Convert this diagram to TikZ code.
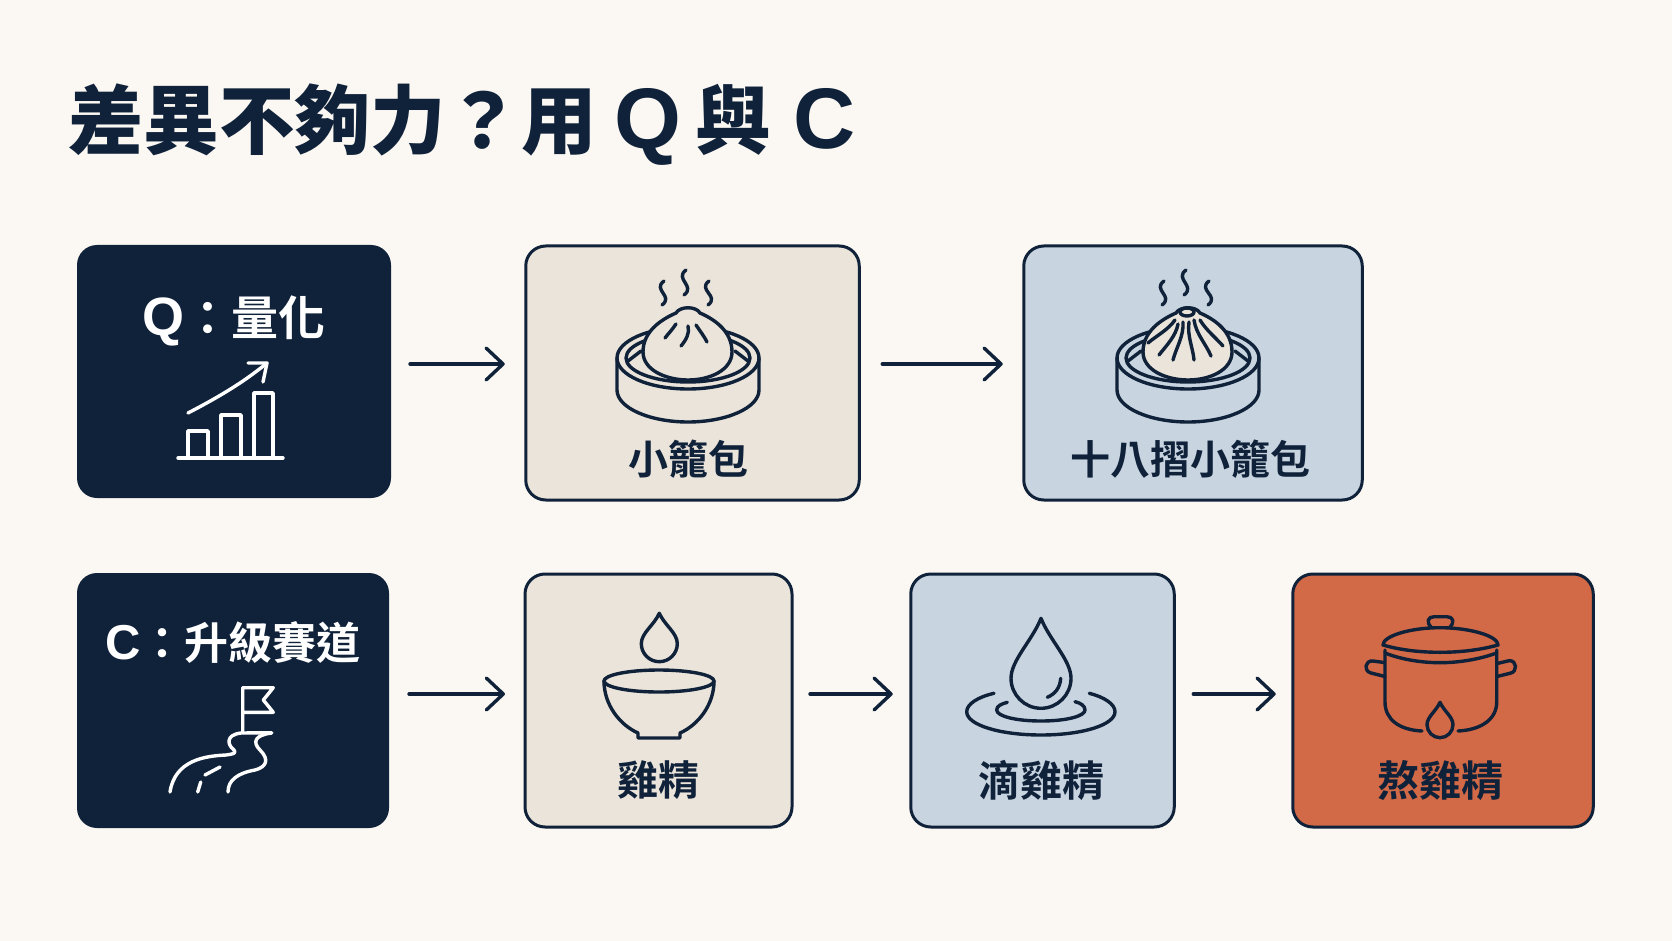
\documentclass[tikz,border=0pt]{standalone}
\usepackage{fontspec}
\usetikzlibrary{arrows.meta,calc}
\newfontfamily\cjkb{Noto Sans CJK TC Bold}
\newfontfamily\cjkk{Noto Sans CJK TC Black}
\newfontfamily\latb{Liberation Sans Bold}
\definecolor{pagebg}{HTML}{FBF8F3}
\definecolor{navy}{HTML}{10223A}
\definecolor{creamfill}{HTML}{EAE4DA}
\definecolor{bluefill}{HTML}{C8D4E0}
\definecolor{orangefill}{HTML}{D26947}
\newcommand\droppath[4]{(#1,#2) .. controls ({#1-0.3*#3},{#2+0.25*#4}) and ({#1-#3},{#2+#4-1.6*#3}) .. ({#1-#3},{#2+#4-#3}) .. controls ({#1-#3},{#2+#4-0.45*#3}) and ({#1-0.55*#3},{#2+#4}) .. (#1,{#2+#4}) .. controls ({#1+0.55*#3},{#2+#4}) and ({#1+#3},{#2+#4-0.45*#3}) .. ({#1+#3},{#2+#4-#3}) .. controls ({#1+#3},{#2+#4-1.6*#3}) and ({#1+0.3*#3},{#2+0.25*#4}) .. (#1,#2) -- cycle}
\tikzset{
  darkbox/.style={fill=navy,draw=none,rounded corners=20pt,outer sep=0pt,inner sep=0pt},
  lightbox/.style={draw=navy,line width=3pt,rounded corners=20pt,outer sep=0pt,inner sep=0pt},
  flow/.style={draw=navy,line width=3.4pt,line cap=round,-{Straight Barb[length=17pt,width=32pt,line width=3.4pt,round]}},
  icon/.style={draw=navy,line width=3.4pt,line cap=round,line join=round},
  wicon/.style={draw=white,line width=3.4pt,line cap=round,line join=round},
  labeltext/.style={text=navy,font=\cjkb\fontsize{40}{44}\selectfont,inner sep=0pt},
  headtext/.style={text=white,font=\cjkb\fontsize{47}{50}\selectfont,inner sep=0pt},
  steamer/.pic={
    \draw[icon] (-71,0) -- (-71,32) .. controls (-71,50) and (-38,64) .. (0,64) .. controls (38,64) and (71,50) .. (71,32) -- (71,0);
    \draw[icon] (0,0) ellipse [x radius=71,y radius=31];
    \draw[icon] (0,0) ellipse [x radius=62,y radius=24];
    \draw[icon] (-60,3) -- (-47,-7);
    \draw[icon] (60,3) -- (47,-7);
    \draw[icon] (-24,-77) .. controls (-36,-68) and (-14,-62) .. (-26,-53);
    \draw[icon] (-2,-88) .. controls (-14,-79) and (8,-72) .. (-4,-63);
    \draw[icon] (21,-77) .. controls (9,-68) and (32,-62) .. (20,-53);
  },
  bunshape/.pic={
    \path[icon,fill=#1] (-12,-45) .. controls (-8,-52) and (8,-52) .. (12,-45) .. controls (28,-38) and (44,-26) .. (44,-6) .. controls (44,12) and (22,22) .. (0,22) .. controls (-22,22) and (-45,12) .. (-45,-6) .. controls (-45,-26) and (-28,-38) .. (-12,-45) -- cycle;
  }
}
\begin{document}
\begin{tikzpicture}[x=1pt,y=-1pt]
\useasboundingbox (0,0) rectangle (1672,941);
\fill[pagebg] (0,0) rectangle (1672,941);

\node[anchor=base west,text=navy,inner sep=0pt] (title) at (68,149) {\cjkk\fontsize{75.5}{80}\selectfont 差異不夠力？用\hspace{18pt}{\latb\fontsize{86}{90}\selectfont Q}\hspace{14pt}與\hspace{22pt}{\latb\fontsize{86}{90}\selectfont C}};

\node[darkbox,minimum width=314pt,minimum height=253pt] (q) at (234,371.5) {};
\node[darkbox,minimum width=312pt,minimum height=255pt] (c) at (233,700.5) {};
\node[lightbox,fill=creamfill,minimum width=333.5pt,minimum height=254pt] (bun) at (692.5,373) {};
\node[lightbox,fill=bluefill,minimum width=338.5pt,minimum height=254pt] (pleat) at (1193,373) {};
\node[lightbox,fill=creamfill,minimum width=267pt,minimum height=253pt] (ess) at (658.5,700.5) {};
\node[lightbox,fill=bluefill,minimum width=263.5pt,minimum height=253pt] (dripp) at (1042.5,700.5) {};
\node[lightbox,fill=orangefill,minimum width=300.5pt,minimum height=253pt] (stew) at (1443,700.5) {};

\node[headtext] (qlabel) at (233.5,321) {{\latb\fontsize{54}{55}\selectfont Q}：量化};
\node[headtext,font=\cjkb\fontsize{44}{48}\selectfont] (clabel) at (233,643) {{\latb\fontsize{49}{55}\selectfont C}：升級賽道};
\node[labeltext] (bunlabel) at (688,459) {小籠包};
\node[labeltext] (pleatlabel) at (1190,459) {十八摺小籠包};
\node[labeltext,font=\cjkb\fontsize{41}{44}\selectfont] (esslabel) at (658,780) {雞精};
\node[labeltext,font=\cjkb\fontsize{42}{44}\selectfont] (driplabel) at (1041,780) {滴雞精};
\node[labeltext,font=\cjkb\fontsize{42}{44}\selectfont] (stewlabel) at (1440,780) {熬雞精};

% connectors
\coordinate (rowa) at (0,364);
\coordinate (rowb) at (0,694);
\draw[flow,shorten <=19pt,shorten >=21pt] (q.east |- rowa) -- (bun.west |- rowa);
\draw[flow,shorten <=23pt,shorten >=21pt] (bun.east |- rowa) -- (pleat.west |- rowa);
\draw[flow,shorten <=20pt,shorten >=20pt] (c.east |- rowb) -- (ess.west |- rowb);
\draw[flow,shorten <=18pt,shorten >=18pt] (ess.east |- rowb) -- (dripp.west |- rowb);
\draw[flow,shorten <=19pt,shorten >=17pt] (dripp.east |- rowb) -- (stew.west |- rowb);

% chart icon
\draw[wicon] (178,458) -- (283,458);
\draw[wicon] (188,458) -- (188,431) -- (208,431) -- (208,458);
\draw[wicon] (221,458) -- (221,415) -- (241,415) -- (241,458);
\draw[wicon] (254,458) -- (254,393) -- (273,393) -- (273,458);
\draw[wicon] (188,413) .. controls (215,399) and (243,383) .. (267,363);
\draw[wicon] (248,363) -- (267,363) -- (263,382);

% flag and road icon
\draw[wicon] (242.7,731.7) -- (242.7,687.7) -- (273.3,687.7) -- (263.3,700) -- (273.3,712.3) -- (242.7,712.3);
\draw[wicon] (271.7,732.7) -- (241,733) .. controls (225,735) and (228,745) .. (233,749) .. controls (238,754) and (232,754) .. (226,755) .. controls (205,756) and (175,760) .. (170,792);
\draw[wicon] (271.7,733) .. controls (255,735) and (252,742) .. (260,750) .. controls (270,760) and (266,767) .. (255,770) .. controls (238,773) and (228,780) .. (228,792);
\draw[wicon] (220,767) -- (205,775);
\draw[wicon] (200.7,782) -- (197.7,792);

% plain bun
\pic at (688,358) {steamer};
\begin{scope}[shift={(688,358)}]
\pic {bunshape=creamfill};
\draw[icon] (-12,-34) .. controls (-16,-28) and (-20,-24) .. (-23,-20);
\draw[icon] (0,-32) .. controls (2,-25) and (-2,-18) .. (-7,-12);
\draw[icon] (8,-33) .. controls (12,-27) and (16,-22) .. (19,-16);
\end{scope}

% pleated bun
\pic at (1188,358) {steamer};
\begin{scope}[shift={(1188,358)}]
\pic {bunshape=creamfill};
\draw[icon] (-1,-46) ellipse [x radius=7,y radius=4];
\draw[icon] (-13,-38) .. controls (-20,-28) and (-32,-22) .. (-40,-15);
\draw[icon] (-10,-34) .. controls (-12,-22) and (-22,-12) .. (-29,-3);
\draw[icon] (-5,-36) .. controls (-4,-22) and (-12,-10) .. (-15,2);
\draw[icon] (1,-36) .. controls (-1,-22) and (5,-10) .. (6,2);
\draw[icon] (6,-38) .. controls (8,-24) and (18,-14) .. (23,-2);
\draw[icon] (12,-38) .. controls (18,-28) and (28,-20) .. (35,-12);
\end{scope}

% bowl icon
\draw[icon] \droppath{659.3}{613.3}{18}{48.4};
\draw[icon] (604,681) .. controls (604,705) and (620,725) .. (638,733) -- (638,738) -- (680,738) -- (680,733) .. controls (698,725) and (714,705) .. (714,681);
\draw[icon] (659,681) ellipse [x radius=55,y radius=11];

% drip icon
\draw[icon] \droppath{1041}{618.3}{30}{90};
\draw[icon] (1060.7,678.3) .. controls (1060,688) and (1055,694) .. (1047.3,697.3);
\draw[icon] (994,693.3) .. controls (978,697) and (966.7,704) .. (966.7,711.7) .. controls (966.7,725) and (1000,735) .. (1041,735) .. controls (1082,735) and (1115,725) .. (1115,711.7) .. controls (1115,704) and (1104,697) .. (1089.3,693.3);
\draw[icon] (1007.3,702.3) .. controls (1001,704) and (996.7,706) .. (996.7,710) .. controls (996.7,716) and (1015,721) .. (1041,721) .. controls (1067,721) and (1085,716) .. (1085,710) .. controls (1085,706) and (1081,703) .. (1075,701.7);

% pot icon
\draw[icon] (1431,627) .. controls (1426,622) and (1428,616.7) .. (1434,616.7) -- (1447,616.7) .. controls (1453,616.7) and (1455,622) .. (1450,627);
\draw[icon] (1383,645) .. controls (1383,636) and (1410,627.7) .. (1440,627.7) .. controls (1470,627.7) and (1498,636) .. (1498,645) .. controls (1480,650) and (1460,652.3) .. (1440,652.3) .. controls (1420,652.3) and (1400,650) .. (1383,645) -- cycle;
\draw[icon] (1385,653) .. controls (1400,659) and (1420,662.7) .. (1440,662.7) .. controls (1460,662.7) and (1480,659) .. (1496.7,653);
\draw[icon] (1385,650) -- (1385,702) .. controls (1385,720) and (1400,730) .. (1422,731);
\draw[icon] (1496.7,650) -- (1496.7,702) .. controls (1496.7,720) and (1480,730) .. (1458,731);
\draw[icon] (1384,662.5) -- (1373,661) .. controls (1365,660) and (1363,671) .. (1371,673) -- (1385,676.5);
\draw[icon] (1498,663.3) -- (1509,660.7) .. controls (1517,660) and (1518,672) .. (1510,673.3) -- (1497,676.5);
\draw[icon] \droppath{1440}{702.3}{13}{35.4};
\end{tikzpicture}
\end{document}
